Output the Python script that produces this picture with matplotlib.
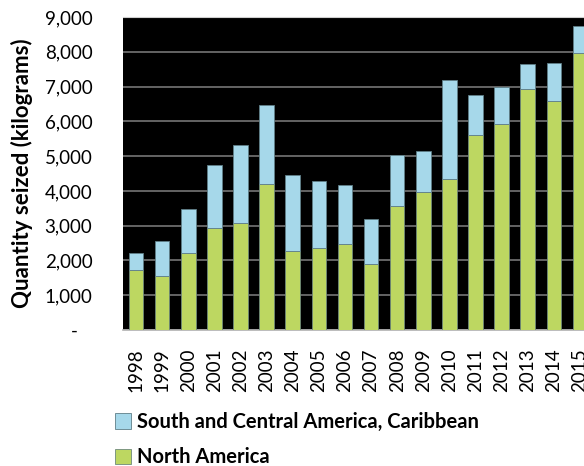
import numpy as np
import matplotlib
matplotlib.use('Agg')
import matplotlib.pyplot as plt
from matplotlib.ticker import FuncFormatter

plt.rcParams['font.family'] = ['Lato', 'DejaVu Sans']

years = [str(y) for y in range(1998, 2016)]
north_america = [1716, 1543, 2205, 2933, 3067, 4188, 2262, 2348, 2463,
                 1907, 3575, 3977, 4332, 5607, 5914, 6920, 6575, 7975]
totals = [2205, 2550, 3479, 4754, 5310, 6460, 4456, 4284, 4169,
          3182, 5022, 5147, 7198, 6767, 6997, 7659, 7688, 8750]
south_central = [t - n for t, n in zip(totals, north_america)]

blue = '#A6D8EA'
green = '#BDD761'

fig = plt.figure(figsize=(5.84, 4.66), dpi=100)
# axes runs past the right edge, so the 2015 bar gets cut like in the source
ax = fig.add_axes([123/584, (466-330)/466, 470/584, 313/466])
ax.set_facecolor('black')

x = np.arange(len(years))
ax.bar(x, north_america, width=0.56, color=green, edgecolor='#6f8a7a',
       linewidth=0.6, label='North America', zorder=3)
ax.bar(x, south_central, width=0.56, bottom=north_america, color=blue,
       edgecolor='#5f7f88', linewidth=0.6,
       label='South and Central America, Caribbean', zorder=3)

ax.set_ylim(0, 9000)
ax.set_xlim(-0.5, len(years) - 0.5)
ax.set_yticks(np.arange(0, 9001, 1000))
ax.yaxis.set_major_formatter(FuncFormatter(
    lambda v, p: '-   ' if v == 0 else f'{int(v):,}'))
ax.grid(axis='y', color='#7f7f7f', linewidth=1.1, zorder=1)
ax.set_xticks(x)
ax.set_xticklabels(years, rotation=90, fontsize=13.5)
ax.tick_params(axis='y', labelsize=13.5, length=0, pad=22)
ax.tick_params(axis='x', length=0, pad=13)
for s in ['left', 'right']:
    ax.spines[s].set_visible(False)
ax.spines['top'].set_color('#cfcfcf')
ax.spines['bottom'].set_color('#b0b0b0')
ax.spines['bottom'].set_linewidth(1.2)

ax.set_ylabel('Quantity seized (kilograms)', fontsize=16, fontweight='bold',
              labelpad=8)

handles, labels = ax.get_legend_handles_labels()
fig.legend(handles[::-1], labels[::-1], loc='upper left',
           bbox_to_anchor=(97/584, 1 - 394/466), frameon=False,
           prop={'size': 14.5, 'weight': 'bold'}, handlelength=0.8,
           handleheight=0.8, handletextpad=0.3, labelspacing=0.75)

fig.savefig('out.png', dpi=100)
